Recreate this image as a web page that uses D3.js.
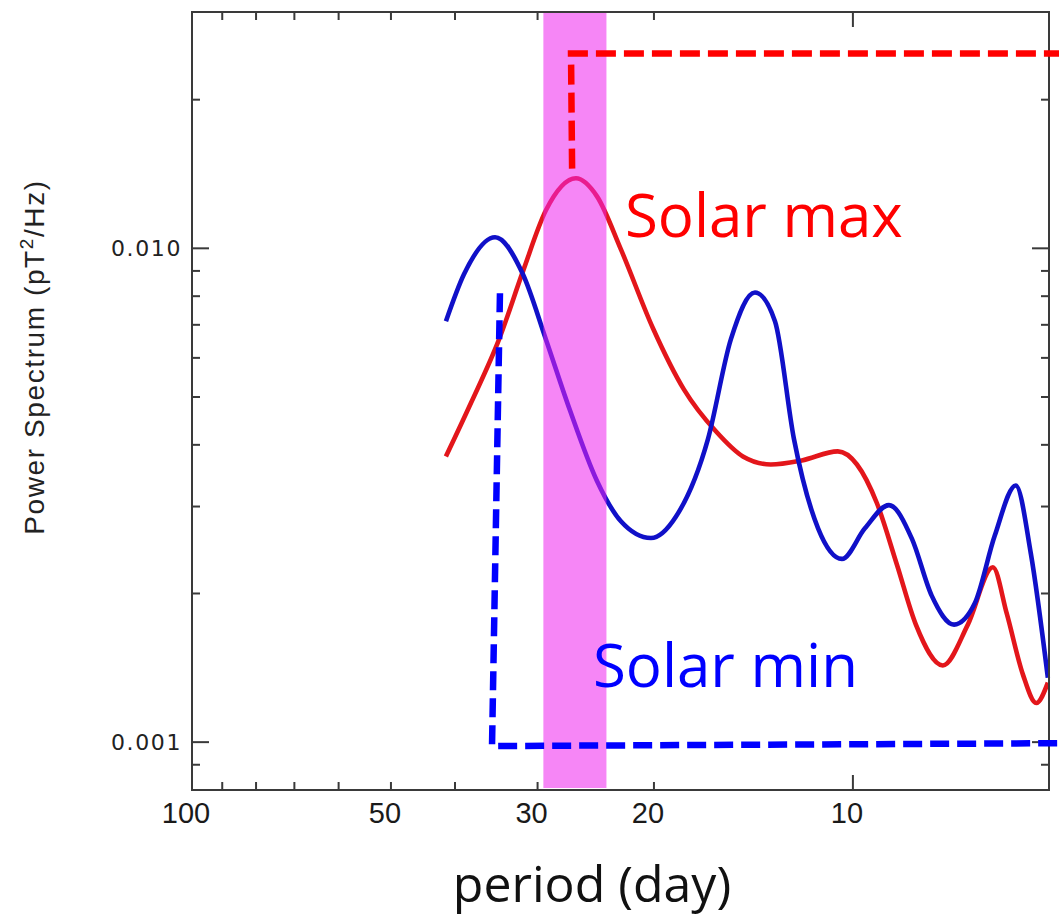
<!DOCTYPE html>
<html>
<head>
<meta charset="utf-8">
<script src="https://cdn.jsdelivr.net/npm/d3@7"></script>
<style>
  html, body { margin: 0; padding: 0; background: #fff; }
  svg { display: block; }
</style>
</head>
<body>
<svg id="chart" width="1059" height="918"></svg>
<script>
// ---------------- data ----------------
// Solar min (blue) power spectrum: period (day) and power (pT^2/Hz)
const minPeriod = [41.28, 38.77, 34.79, 31.57, 29.14, 26.80, 24.39, 22.44, 20.21, 18.53, 16.57, 15.30, 14.07, 13.12, 12.28, 11.29, 10.39, 9.59, 8.82, 8.14, 7.60, 7.03, 6.54, 6.10, 5.67, 5.38, 5.07];
const minPower  = [0.00712, 0.00886, 0.01053, 0.00886, 0.00654, 0.00470, 0.00338, 0.00280, 0.00259, 0.00286, 0.00411, 0.00654, 0.00814, 0.00712, 0.00411, 0.00271, 0.00235, 0.00271, 0.00302, 0.00258, 0.00198, 0.00173, 0.00191, 0.00262, 0.00331, 0.00241, 0.00135];
// Solar max (red)
const maxPeriod = [41.28, 37.84, 34.31, 31.57, 29.14, 26.25, 24.39, 22.44, 20.07, 18.02, 16.12, 14.67, 13.31, 11.95, 10.54, 9.86, 9.20, 8.58, 8.03, 7.31, 6.70, 6.14, 5.85, 5.53, 5.28, 5.07];
const maxPower  = [0.00379, 0.00486, 0.00654, 0.00898, 0.01194, 0.01386, 0.01274, 0.00995, 0.00689, 0.00518, 0.00426, 0.00379, 0.00365, 0.00372, 0.00388, 0.00365, 0.00305, 0.00229, 0.00173, 0.00143, 0.00173, 0.00226, 0.00182, 0.00137, 0.00120, 0.00132];
// highlighted band (~27-day solar rotation)
const bandPeriods = [29.4, 23.6];
// dashed annotation brackets
const maxBracketPeriod = [26.6, 26.7, 4.85];
const maxBracketPower  = [0.0145, 0.0248, 0.0248];
const minBracketPeriod = [34.2, 35.16, 4.85];
const minBracketPower  = [0.00811, 0.000982, 0.000995];
// axis ticks
const xTickValues = [90, 80, 70, 60, 50, 40, 30, 20, 10];
const xMajorTicks = [10];
const xTickLabels = [100, 50, 30, 20, 10];
const yTickValues = [0.0009, 0.001, 0.002, 0.003, 0.004, 0.005, 0.006, 0.007, 0.008, 0.009, 0.010, 0.020];
const yMajorTicks = [0.001, 0.010];
const yTickLabels = ["0.001", "0.010"];
const seriesLabels = ["Solar max", "Solar min"];
const xTitle = "period (day)";

// ---------------- layout ----------------
const svg = d3.select("#chart");
const L = 192, R = 1049, T = 12, B = 790;
const x = d3.scaleLog().domain([100, 5.05]).range([L, R]);
const y = d3.scaleLog().domain([0.0008, 0.0301]).range([B, T]);

svg.append("rect").attr("width", 1059).attr("height", 918).attr("fill", "#fff");

const line = d3.line()
  .x(d => x(d[0])).y(d => y(d[1]))
  .curve(d3.curveMonotoneX);

const maxData = maxPeriod.map((p, i) => [p, maxPower[i]]);
const minData = minPeriod.map((p, i) => [p, minPower[i]]);

svg.append("path").attr("d", line(maxData))
  .attr("fill", "none").attr("stroke", "#e3161b").attr("stroke-width", 4.6)
  .attr("stroke-linejoin", "round");
svg.append("path").attr("d", line(minData))
  .attr("fill", "none").attr("stroke", "#1010c8").attr("stroke-width", 4.6)
  .attr("stroke-linejoin", "round");

// magenta band (drawn over curves, translucent)
svg.append("rect")
  .attr("x", x(bandPeriods[0]))
  .attr("y", T + 1)
  .attr("width", x(bandPeriods[1]) - x(bandPeriods[0]))
  .attr("height", B - T - 3)
  .attr("fill", "#ee22ee").attr("opacity", 0.55);

// frame
const frame = svg.append("g").attr("stroke", "#3a3a3a").attr("stroke-width", 2).attr("fill", "none");
frame.append("rect").attr("x", L).attr("y", T).attr("width", R - L).attr("height", B - T);

// x ticks (bottom & top, inward)
xTickValues.forEach(v => {
  const len = xMajorTicks.includes(v) ? 15 : 8;
  frame.append("line").attr("x1", x(v)).attr("x2", x(v)).attr("y1", B).attr("y2", B - len);
  frame.append("line").attr("x1", x(v)).attr("x2", x(v)).attr("y1", T).attr("y2", T + len);
});
// y ticks (left & right, inward)
yTickValues.forEach(v => {
  const len = yMajorTicks.includes(v) ? 17 : 8;
  frame.append("line").attr("y1", y(v)).attr("y2", y(v)).attr("x1", L).attr("x2", L + len);
  frame.append("line").attr("y1", y(v)).attr("y2", y(v)).attr("x1", R).attr("x2", R - len);
});

// x tick labels
svg.append("g").selectAll("text").data(xTickLabels).join("text")
  .attr("x", d => x(d) - 6).attr("y", 823)
  .attr("text-anchor", "middle")
  .attr("font-family", "Liberation Sans, Arial, sans-serif")
  .attr("font-size", 29).attr("fill", "#1a1a1a")
  .text(d => d);

// y tick labels
svg.append("g").selectAll("text").data(yMajorTicks).join("text")
  .attr("x", 182).attr("y", d => y(d) + 8)
  .attr("text-anchor", "end")
  .attr("font-family", "DejaVu Sans, sans-serif")
  .attr("font-size", 22).attr("letter-spacing", 1.6).attr("fill", "#222")
  .text((d, i) => yTickLabels[i]);

// y title
const yt = svg.append("text")
  .attr("transform", "translate(44,357) rotate(-90)")
  .attr("text-anchor", "middle")
  .attr("font-family", "Liberation Sans, Arial, sans-serif")
  .attr("font-size", 28).attr("letter-spacing", 1.6).attr("fill", "#222");
yt.append("tspan").text("Power Spectrum  (pT");
yt.append("tspan").attr("dy", -11).attr("font-size", 19).text("2");
yt.append("tspan").attr("dy", 11).text("/Hz)");

// dashed brackets
const straight = d3.line().x(d => x(d[0])).y(d => y(d[1]));
svg.append("path")
  .attr("d", straight(maxBracketPeriod.map((p, i) => [p, maxBracketPower[i]])))
  .attr("fill", "none").attr("stroke", "#ff0000").attr("stroke-width", 6.5)
  .attr("stroke-dasharray", "20,8");
svg.append("path")
  .attr("d", straight(minBracketPeriod.map((p, i) => [p, minBracketPower[i]])))
  .attr("fill", "none").attr("stroke", "#0000ff").attr("stroke-width", 6.5)
  .attr("stroke-dasharray", "19,8");

// series labels
svg.append("text").attr("x", x(22.13)).attr("y", y(0.01053))
  .attr("font-family", "Open Sans, sans-serif").attr("font-size", 60)
  .attr("fill", "#ff0000").text(seriesLabels[0]);
svg.append("text").attr("x", x(24.74)).attr("y", y(0.001292))
  .attr("font-family", "Open Sans, sans-serif").attr("font-size", 60)
  .attr("fill", "#0000ff").text(seriesLabels[1]);

// x title
svg.append("text").attr("x", 592).attr("y", 902)
  .attr("text-anchor", "middle")
  .attr("font-family", "Open Sans, sans-serif").attr("font-size", 50)
  .attr("fill", "#111").text(xTitle);
</script>
</body>
</html>
